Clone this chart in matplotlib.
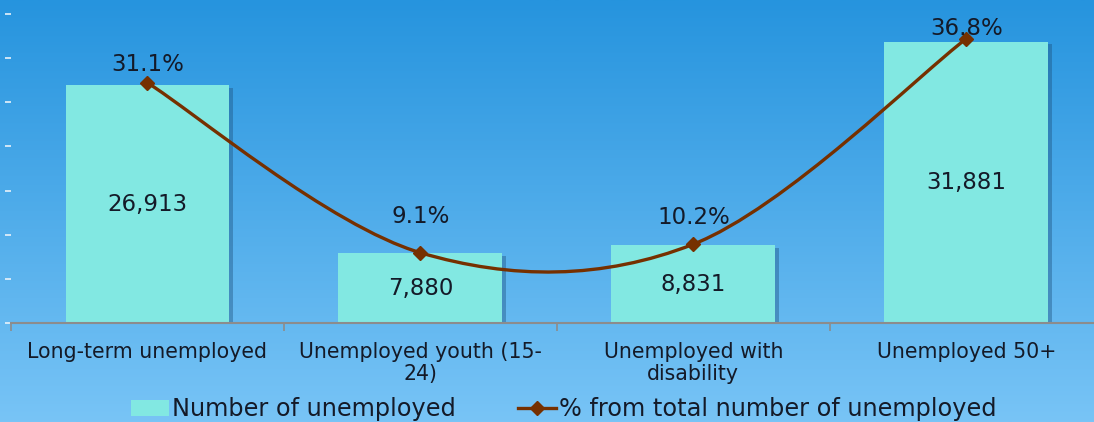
import numpy as np
import matplotlib
matplotlib.use("Agg")
import matplotlib.pyplot as plt
from matplotlib.path import Path
from matplotlib.patches import PathPatch, Patch
from matplotlib.lines import Line2D
import matplotlib.patheffects as pe

categories = ["Long-term unemployed", "Unemployed youth (15-\n24)",
              "Unemployed with\ndisability", "Unemployed 50+"]
unemployed = [26913, 7880, 8831, 31881]
share_pct = [31.1, 9.1, 10.2, 36.8]

bar_color = "#82e8e2"
line_color = "#763000"
text_color = "#141a28"

fig = plt.figure(figsize=(10.94, 4.22), dpi=100)

# gradient background over the whole figure
bg = fig.add_axes([0, 0, 1, 1])
top = np.array([38, 148, 222]) / 255
bottom = np.array([120, 196, 246]) / 255
t = np.linspace(0, 1, 256)[:, None]
grad = top * (1 - t) + bottom * t
bg.imshow(grad[:, None, :], aspect="auto", extent=[0, 1, 0, 1])
bg.axis("off")

ax = fig.add_axes([0.01, 0.2346, 0.998, 0.7322])
ax.patch.set_alpha(0)
x = np.arange(len(categories))
bars = ax.bar(x, unemployed, width=0.6, color=bar_color, zorder=2)
for b in bars:
    b.set_path_effects([pe.SimplePatchShadow(offset=(3, -2), shadow_rgbFace="#1c4f7a", alpha=0.4),
                        pe.Normal()])
for xi, v in zip(x, unemployed):
    ax.text(xi, v / 2, f"{v:,}", ha="center", va="center", fontsize=16.5, color=text_color, zorder=5)

ax.set_xlim(-0.5, 3.5)
ax.set_ylim(0, 35000)
ax.set_yticks(np.arange(0, 35001, 5000))
ax.set_yticklabels([])
ax.tick_params(axis="y", colors="#e8f2fa", length=4, width=1.2, direction="out")
ax.set_xticks(np.arange(-0.5, 4, 1), minor=False)
ax.set_xticklabels([])
ax.set_xticks(x, minor=True)
ax.set_xticklabels(categories, minor=True, fontsize=14.8, color=text_color, linespacing=1.1)
ax.tick_params(axis="x", which="major", colors="#8c8c8c", length=6, width=1.2)
ax.tick_params(axis="x", which="minor", length=0, pad=14)
for s in ["top", "right", "left"]:
    ax.spines[s].set_visible(False)
ax.spines["bottom"].set_color("#8c8c8c")
ax.spines["bottom"].set_linewidth(1.5)

# secondary axis for the percentage line
ax2 = ax.twinx()
ax2.set_ylim(0, 40)
ax2.axis("off")

# smoothed line through the points (Catmull-Rom as Bezier)
pts = np.column_stack([x, share_pct]).astype(float)
verts = [pts[0]]
codes = [Path.MOVETO]
n = len(pts)
for i in range(n - 1):
    p0 = pts[max(i - 1, 0)]
    p1 = pts[i]
    p2 = pts[i + 1]
    p3 = pts[min(i + 2, n - 1)]
    c1 = p1 + (p2 - p0) / 6
    c2 = p2 - (p3 - p1) / 6
    verts += [c1, c2, p2]
    codes += [Path.CURVE4] * 3
ax2.add_patch(PathPatch(Path(verts, codes), fill=False, edgecolor=line_color, lw=2.4, zorder=4))
ax2.plot(x, share_pct, linestyle="none", marker="D", markersize=7, color=line_color, zorder=5)

label_offsets = [5, 18, 11, -1]
for xi, v, off in zip(x, share_pct, label_offsets):
    ax2.annotate(f"{v}%", (xi, v), xytext=(0, off), textcoords="offset points",
                 ha="center", va="bottom", fontsize=16.5, color=text_color, zorder=6)

handles = [Patch(facecolor=bar_color, edgecolor="none"),
           Line2D([0], [0], color=line_color, lw=2.4, marker="D", markersize=7)]
fig.legend(handles, ["Number of unemployed", "% from total number of unemployed"],
           loc="center", bbox_to_anchor=(0.515, 0.03), ncol=2, frameon=False,
           fontsize=17.3, labelcolor=text_color, handlelength=1.6, handletextpad=0.1,
           columnspacing=2.6)

fig.savefig("out.png", dpi=100)
